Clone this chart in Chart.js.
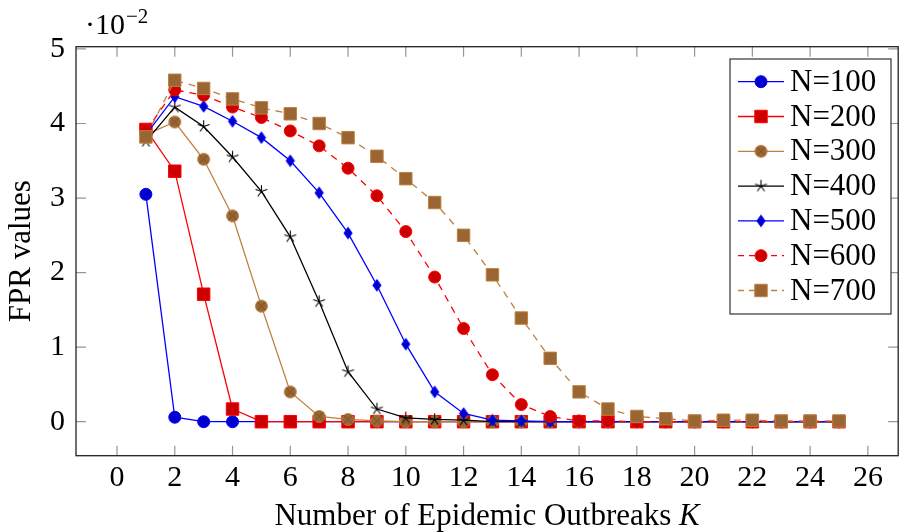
<!DOCTYPE html>
<html>
<head>
<meta charset="utf-8">
<script src="https://cdn.jsdelivr.net/npm/chart.js@4.4.1/dist/chart.umd.min.js"></script>
<style>
html, body { margin: 0; padding: 0; background: #fff; }
#wrap { width: 908px; height: 532px; }
</style>
</head>
<body>
<div id="wrap"><canvas id="fprChart" width="908" height="532"></canvas></div>
<script>
// number of epidemic outbreaks K
const outbreaks = [1, 2, 3, 4, 5, 6, 7, 8, 9, 10, 11, 12, 13, 14, 15, 16, 17, 18, 19, 20, 21, 22, 23, 24, 25];

// FPR values (x 10^-2), one list per N
const n100 = [3.05, 0.06, 0.00, 0.00, 0.00, 0.00, 0.00, 0.00, 0.00, 0.00, 0.00, 0.00, 0.00, 0.00, 0.00, 0.00, 0.00, 0.00, 0.00, 0.00, 0.00, 0.00, 0.00, 0.00, 0.00];
const n200 = [3.92, 3.36, 1.71, 0.17, 0.00, 0.00, 0.00, 0.00, 0.00, 0.00, 0.00, 0.00, 0.00, 0.00, 0.00, 0.00, 0.00, 0.00, 0.00, 0.00, 0.00, 0.00, 0.00, 0.00, 0.00];
const n300 = [3.85, 4.02, 3.52, 2.76, 1.55, 0.40, 0.07, 0.03, 0.01, 0.00, 0.00, 0.00, 0.00, 0.00, 0.00, 0.00, 0.00, 0.00, 0.00, 0.00, 0.00, 0.00, 0.00, 0.00, 0.00];
const n400 = [3.76, 4.22, 3.96, 3.55, 3.09, 2.48, 1.61, 0.67, 0.17, 0.05, 0.03, 0.02, 0.00, 0.00, 0.00, 0.00, 0.00, 0.00, 0.00, 0.00, 0.00, 0.00, 0.00, 0.00, 0.00];
const n500 = [3.85, 4.36, 4.23, 4.03, 3.81, 3.50, 3.07, 2.53, 1.83, 1.04, 0.40, 0.11, 0.02, 0.01, 0.00, 0.00, 0.00, 0.00, 0.00, 0.00, 0.00, 0.00, 0.00, 0.00, 0.00];
const n600 = [3.90, 4.45, 4.38, 4.22, 4.08, 3.90, 3.70, 3.40, 3.03, 2.55, 1.94, 1.25, 0.63, 0.23, 0.07, 0.01, 0.01, 0.00, 0.00, 0.00, 0.00, 0.00, 0.00, 0.00, 0.00];
const n700 = [3.82, 4.58, 4.47, 4.33, 4.21, 4.13, 4.00, 3.81, 3.56, 3.26, 2.94, 2.50, 1.97, 1.39, 0.85, 0.40, 0.17, 0.07, 0.04, 0.01, 0.02, 0.02, 0.01, 0.01, 0.01];

const seriesLabels = ['N=100', 'N=200', 'N=300', 'N=400', 'N=500', 'N=600', 'N=700'];
const xTicks = [0, 2, 4, 6, 8, 10, 12, 14, 16, 18, 20, 22, 24, 26];
const yTicks = [0, 1, 2, 3, 4, 5];

const FONT = "'Liberation Serif', 'DejaVu Serif', serif";
const BLUE = 'rgb(0,0,255)', BLUE_FILL = 'rgb(0,0,204)';
const RED = 'rgb(255,0,0)', RED_FILL = 'rgb(204,0,0)';
const BROWN = 'rgb(191,128,64)', BROWN_FILL = 'rgb(153,102,51)';

function makeMarker(w, h, draw) {
    const c = document.createElement('canvas');
    c.width = w;
    c.height = h;
    draw(c.getContext('2d'), w / 2, h / 2);
    return c;
}

// circle with an x inside (pgf otimes*)
const otimesMark = makeMarker(15, 15, (g, cx, cy) => {
    g.beginPath();
    g.arc(cx, cy, 6, 0, Math.PI * 2);
    g.fillStyle = BROWN_FILL;
    g.fill();
    g.lineWidth = 1;
    g.strokeStyle = BROWN;
    g.stroke();
    const d = 6 * Math.SQRT1_2;
    g.beginPath();
    g.moveTo(cx - d, cy - d); g.lineTo(cx + d, cy + d);
    g.moveTo(cx - d, cy + d); g.lineTo(cx + d, cy - d);
    g.strokeStyle = 'rgb(120,78,38)';
    g.stroke();
});

// five armed star (pgf star)
const starMark = makeMarker(15, 15, (g, cx, cy) => {
    g.beginPath();
    for (let i = 0; i < 5; i++) {
        const a = -Math.PI / 2 + i * 2 * Math.PI / 5;
        g.moveTo(cx, cy);
        g.lineTo(cx + 6.2 * Math.cos(a), cy + 6.2 * Math.sin(a));
    }
    g.lineWidth = 1.1;
    g.strokeStyle = '#000';
    g.stroke();
});

const diamondMark = makeMarker(12, 15, (g, cx, cy) => {
    g.beginPath();
    g.moveTo(cx, cy - 5.8);
    g.lineTo(cx + 4.1, cy);
    g.lineTo(cx, cy + 5.8);
    g.lineTo(cx - 4.1, cy);
    g.closePath();
    g.fillStyle = BLUE_FILL;
    g.fill();
    g.lineWidth = 1;
    g.strokeStyle = BLUE;
    g.stroke();
});

const styles = [
    { line: BLUE, fill: BLUE_FILL, mark: 'circle', r: 6, dash: [] },
    { line: RED, fill: RED_FILL, mark: 'rect', r: 8.8, dash: [] },
    { line: BROWN, fill: BROWN_FILL, mark: otimesMark, r: 6, dash: [] },
    { line: '#000', fill: '#000', mark: starMark, r: 6, dash: [] },
    { line: BLUE, fill: BLUE_FILL, mark: diamondMark, r: 6, dash: [] },
    { line: RED, fill: RED_FILL, mark: 'circle', r: 6, dash: [7, 6] },
    { line: BROWN, fill: BROWN_FILL, mark: 'rect', r: 8.8, dash: [7, 6] }
];

const allSeries = [n100, n200, n300, n400, n500, n600, n700];

const datasets = allSeries.map((values, i) => ({
    label: seriesLabels[i],
    data: outbreaks.map((k, j) => ({ x: k, y: values[j] })),
    borderColor: styles[i].line,
    borderWidth: 1.3,
    borderDash: styles[i].dash,
    pointStyle: styles[i].mark,
    pointRadius: styles[i].r,
    pointBackgroundColor: styles[i].fill,
    pointBorderColor: styles[i].line,
    pointBorderWidth: 1,
    tension: 0,
    fill: false,
    order: allSeries.length - 1 - i  // later series drawn on top
}));

function drawLegendMark(ctx, st, x, y) {
    if (typeof st.mark !== 'string') {
        ctx.drawImage(st.mark, x - st.mark.width / 2, y - st.mark.height / 2);
        return;
    }
    ctx.beginPath();
    if (st.mark === 'circle') {
        ctx.arc(x, y, st.r, 0, Math.PI * 2);
    } else {
        const s = st.r * Math.SQRT1_2;
        ctx.rect(x - s, y - s, 2 * s, 2 * s);
    }
    ctx.fillStyle = st.fill;
    ctx.fill();
    ctx.lineWidth = 1;
    ctx.strokeStyle = st.line;
    ctx.stroke();
}

const pgfAxis = {
    id: 'pgfAxis',
    beforeDatasetsDraw(chart) {
        const { ctx, chartArea: a, scales } = chart;
        ctx.save();
        ctx.strokeStyle = 'rgb(150,150,150)';
        ctx.lineWidth = 1.2;
        ctx.beginPath();
        xTicks.forEach(v => {
            const px = scales.x.getPixelForValue(v);
            ctx.moveTo(px, a.bottom); ctx.lineTo(px, a.bottom - 10);
            ctx.moveTo(px, a.top); ctx.lineTo(px, a.top + 10);
        });
        yTicks.forEach(v => {
            const py = scales.y.getPixelForValue(v);
            ctx.moveTo(a.left, py); ctx.lineTo(a.left + 10, py);
            ctx.moveTo(a.right, py); ctx.lineTo(a.right - 10, py);
        });
        ctx.stroke();
        ctx.restore();
    },
    afterDatasetsDraw(chart) {
        const { ctx, chartArea: a } = chart;
        ctx.save();
        ctx.strokeStyle = '#222';
        ctx.lineWidth = 1.3;
        ctx.strokeRect(a.left, a.top, a.right - a.left, a.bottom - a.top);

        // scale factor above the y axis
        ctx.fillStyle = '#000';
        ctx.textBaseline = 'alphabetic';
        ctx.textAlign = 'left';
        ctx.font = '30px ' + FONT;
        ctx.fillText('\u00b710', 85, 34);
        const wb = ctx.measureText('\u00b710').width;
        ctx.font = '21px ' + FONT;
        ctx.fillText('\u22122', 85 + wb + 1, 23);

        // y title
        ctx.save();
        ctx.translate(22, (a.top + a.bottom) / 2);
        ctx.rotate(-Math.PI / 2);
        ctx.textAlign = 'center';
        ctx.textBaseline = 'middle';
        ctx.font = '31px ' + FONT;
        ctx.fillText('FPR values', 0, 0);
        ctx.restore();

        // x title with italic K
        const main = 'Number of Epidemic Outbreaks ';
        ctx.font = '31px ' + FONT;
        const w1 = ctx.measureText(main).width;
        ctx.font = 'italic 31px ' + FONT;
        const w2 = ctx.measureText('K').width;
        const x0 = (a.left + a.right) / 2 - (w1 + w2) / 2;
        ctx.font = '31px ' + FONT;
        ctx.fillText(main, x0, 525);
        ctx.font = 'italic 31px ' + FONT;
        ctx.fillText('K', x0 + w1, 525);

        // legend
        const bx = 730, by = 59, bw = 161, bh = 255;
        ctx.fillStyle = '#fff';
        ctx.fillRect(bx, by, bw, bh);
        ctx.strokeStyle = '#333';
        ctx.lineWidth = 1.2;
        ctx.strokeRect(bx, by, bw, bh);
        seriesLabels.forEach((lab, i) => {
            const st = styles[i];
            const cy = 81.7 + i * 34.8;
            ctx.beginPath();
            ctx.setLineDash(st.dash.length ? [6, 5] : []);
            ctx.moveTo(738, cy);
            ctx.lineTo(784, cy);
            ctx.strokeStyle = st.line;
            ctx.lineWidth = 1.3;
            ctx.stroke();
            ctx.setLineDash([]);
            drawLegendMark(ctx, st, 761, cy);
            ctx.fillStyle = '#000';
            ctx.font = '31px ' + FONT;
            ctx.textAlign = 'left';
            ctx.textBaseline = 'middle';
            ctx.fillText(lab, 790, cy + 1);
        });
        ctx.restore();
    }
};

new Chart(document.getElementById('fprChart'), {
    type: 'line',
    data: { datasets: datasets },
    options: {
        responsive: false,
        animation: false,
        events: [],
        layout: { padding: { top: 46.7, right: 1.3, left: 0, bottom: 0 } },
        plugins: {
            legend: { display: false },
            tooltip: { enabled: false }
        },
        scales: {
            x: {
                type: 'linear',
                min: -1.42,
                max: 27.05,
                afterBuildTicks: s => { s.ticks = xTicks.map(v => ({ value: v })); },
                afterFit: s => { s.height = 76.3; },
                grid: { display: false, drawTicks: false },
                border: { display: false },
                ticks: { color: '#000', font: { family: FONT, size: 30 }, padding: 4, maxRotation: 0, autoSkip: false }
            },
            y: {
                type: 'linear',
                min: -0.456,
                max: 5.03,
                afterBuildTicks: s => { s.ticks = yTicks.map(v => ({ value: v })); },
                afterFit: s => { s.width = 76; },
                grid: { display: false, drawTicks: false },
                border: { display: false },
                ticks: { color: '#000', font: { family: FONT, size: 30 }, padding: 11 }
            }
        }
    },
    plugins: [pgfAxis]
});
</script>
</body>
</html>
